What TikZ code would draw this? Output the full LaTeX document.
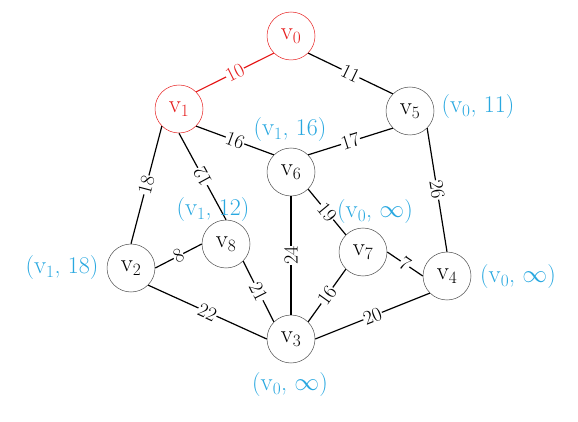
\documentclass[tikz,border=0pt]{standalone}
\usetikzlibrary{positioning}
\definecolor{lblue}{RGB}{41,168,224}
\definecolor{vred}{RGB}{230,30,30}
\begin{document}
\begin{tikzpicture}[x=1pt,y=-1pt,
  vtx/.style={circle,draw=black!70,line width=0.5pt,minimum size=48pt,inner sep=0pt,font=\fontsize{24}{28}\selectfont},
  redvtx/.style={vtx,draw=vred,text=vred},
  edge/.style={line width=1.2pt,black},
  wlab/.style={fill=white,inner sep=0.6pt,sloped,font=\fontsize{20}{22}\selectfont},
  info/.style={text=lblue,inner sep=0pt,font=\fontsize{24}{28}\selectfont}]
\useasboundingbox (0,0) rectangle (578,422);
\node[redvtx] (v0) at (291,36) {$\mathrm{v}_0$};
\node[redvtx] (v1) at (179,109) {$\mathrm{v}_1$};
\node[vtx] (v5) at (410,111) {$\mathrm{v}_5$};
\node[vtx] (v6) at (291,172) {$\mathrm{v}_6$};
\node[vtx] (v8) at (226,244) {$\mathrm{v}_8$};
\node[vtx] (v2) at (131,268) {$\mathrm{v}_2$};
\node[vtx] (v7) at (363,252) {$\mathrm{v}_7$};
\node[vtx] (v4) at (447,276) {$\mathrm{v}_4$};
\node[vtx] (v3) at (291,339) {$\mathrm{v}_3$};

\draw[edge,vred] (v0.south west) -- node[wlab,text=vred]{10} (v1.north east);
\draw[edge] (v0.south east) -- node[wlab]{11} (v5.north west);
\draw[edge] (v1.south east) -- node[wlab]{16} (v6.north west);
\draw[edge] (v5.south west) -- node[wlab]{17} (v6.north east);
\draw[edge] (v1.south west) -- node[wlab]{18} (v2.north);
\draw[edge] (v8.north) -- node[wlab,allow upside down]{12} (v1.south);
\draw[edge] (v5.south east) -- node[wlab]{26} (v4.north);
\draw[edge] (v6.south east) -- node[wlab]{19} (v7.north west);
\draw[edge] (v3.north) -- node[wlab]{24} (v6.south);
\draw[edge] (v2.east) -- node[wlab]{8} (v8.west);
\draw[edge] (v8.south east) -- node[wlab]{21} (v3.north west);
\draw[edge] (v7.east) -- node[wlab]{7} (v4.west);
\draw[edge] (v7.south west) -- node[wlab]{16} (v3.north east);
\draw[edge] (v2.south east) -- node[wlab]{22} (v3.west);
\draw[edge] (v3.east) -- node[wlab]{20} (v4.south west);

\node[info] (i6) at (290,130) {($\mathrm{v}_1$, 16)};
\node[info] (i5) at (478,107) {($\mathrm{v}_0$, 11)};
\node[info] (i8) at (213,210) {($\mathrm{v}_1$, 12)};
\node[info] (i2) at (62,268) {($\mathrm{v}_1$, 18)};
\node[info] (i7) at (375,212) {($\mathrm{v}_0$, $\infty$)};
\node[info] (i4) at (518,277) {($\mathrm{v}_0$, $\infty$)};
\node[info] (i3) at (290,385) {($\mathrm{v}_0$, $\infty$)};
\end{tikzpicture}
\end{document}
